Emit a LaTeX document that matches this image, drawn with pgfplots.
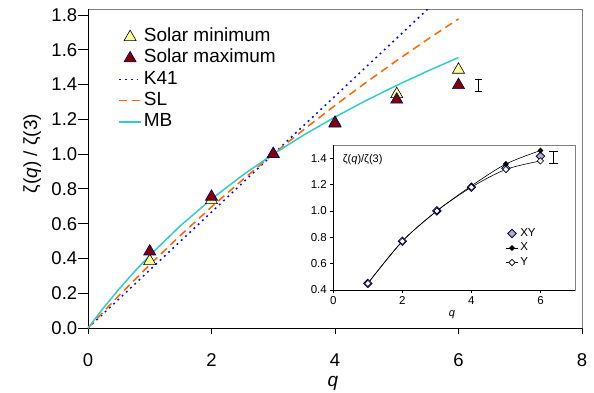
\documentclass[border=0pt]{standalone}
\usepackage{fontspec}
\setmainfont{Liberation Sans}
\usepackage{pgfplots}
\pgfplotsset{compat=1.18}
\definecolor{minfill}{RGB}{255,255,153}
\definecolor{maxfill}{RGB}{128,0,0}
\definecolor{maxedge}{RGB}{0,0,128}
\definecolor{slorange}{RGB}{255,102,0}
\definecolor{mbturq}{RGB}{51,204,204}
\definecolor{k41blue}{RGB}{0,0,255}
\definecolor{framegray}{RGB}{128,128,128}
\begin{document}
\begin{tikzpicture}
\useasboundingbox (-88pt,-64pt) rectangle (506pt,328pt);
\begin{axis}[
  at={(0pt,0pt)}, anchor=south west,
  scale only axis, width=494pt, height=319pt,
  xmin=0, xmax=8, ymin=0, ymax=1.8345,
  axis x line*=bottom, axis y line*=left,
  axis background/.style={draw=framegray, line width=0.8pt},
  axis line style={black, line width=0.8pt},
  tick align=outside,
  xtick={0,2,4,6,8}, ytick={0,0.2,0.4,0.6,0.8,1.0,1.2,1.4,1.6,1.8},
  yticklabel style={xshift=-3pt, /pgf/number format/.cd, fixed, fixed zerofill, precision=1},
  /pgf/number format/assume math mode=true,
  tick label style={font=\fontsize{18.5}{20}\selectfont},
  xticklabel style={yshift=-18pt},
  xtick style={/pgfplots/major tick length=6pt, black, line width=0.8pt},
  ytick style={/pgfplots/major tick length=10pt, black, line width=0.8pt},
  xlabel={\itshape q},
  ylabel={ζ(\textit{q}) / ζ(3)},
  xlabel style={at={(axis description cs:0.496,-0.172)}, anchor=center, font=\fontsize{19}{21}\selectfont},
  ylabel style={at={(axis description cs:-0.113,0.547)}, anchor=center, font=\fontsize{19}{21}\selectfont},
  legend style={at={(axis description cs:0.055,0.952)}, anchor=north west, draw=none, fill=none,
    font=\fontsize{19}{21}\selectfont,
    nodes={text height=13.5pt, text depth=4.5pt, inner ysep=1.6pt}},
  legend cell align=left,
  legend image code/.code={\draw[mark repeat=2,mark phase=2,#1] plot coordinates {(0pt,0pt) (11pt,0pt) (22pt,0pt)};},
]
\addplot[only marks, mark=triangle*, mark size=7pt, mark options={fill=minfill, draw=black, line width=0.6pt}]
  coordinates {(1,0.385)(2,0.735)(3,1.0)(4,1.18)(5,1.345)(6,1.485)};
\addlegendentry{Solar minimum}
\addplot[only marks, mark=triangle*, mark size=7pt, mark options={fill=maxfill, draw=maxedge, line width=0.6pt}]
  coordinates {(1,0.44)(2,0.755)(3,1.0)(4,1.175)(5,1.313)(6,1.397)};
\addlegendentry{Solar maximum}
\addplot[k41blue, line width=1.5pt, dash pattern=on 1.8pt off 4pt]
  coordinates {(0,0)(6,2)};
\addlegendentry{K41}
\addplot[slorange, line width=1.5pt, dash pattern=on 8pt off 5pt]
  coordinates {(0,0)(0.5,0.1863)(1,0.3640)(1.5,0.5337)(2,0.6959)(2.5,0.8513)(3,1.0)(3.5,1.1427)(4,1.2797)(4.5,1.4113)(5,1.5381)(5.5,1.6601)(6,1.7778)};
\addlegendentry{SL}
\addplot[mbturq, line width=1.5pt]
  coordinates {(0,0)(0.25,0.1153)(0.5,0.2229)(0.75,0.3235)(1,0.4178)(1.5,0.5893)(2,0.7415)(2.5,0.8775)(3,1.0)(3.5,1.1113)(4,1.2133)(4.5,1.3076)(5,1.3953)(5.5,1.4777)(6,1.5556)};
\addlegendentry{MB}
\addplot[forget plot, black, only marks, mark=*, mark size=0pt, error bars/.cd, y dir=both, y explicit,
  error mark=-,
  error bar style={black, line width=0.9pt},
  error mark options={black, rotate=90, mark size=3.5pt, line width=0.9pt}]
  coordinates {(6.32,1.395) +- (0,0.037)};
\end{axis}
\begin{axis}[
  at={(245.3pt,38pt)}, anchor=south west,
  scale only axis, width=241.7pt, height=145pt,
  xmin=0, xmax=7, ymin=0.4, ymax=1.5,
  axis x line*=bottom, axis y line*=left,
  axis background/.style={draw=framegray, fill=white, line width=0.8pt},
  axis line style={black, line width=0.7pt},
  tick align=outside, major tick length=3pt,
  tick style={black, line width=0.7pt},
  xtick={0,2,4,6}, ytick={0.4,0.6,0.8,1.0,1.2,1.4},
  yticklabel style={/pgf/number format/.cd, fixed, fixed zerofill, precision=1},
  /pgf/number format/assume math mode=true,
  tick label style={font=\fontsize{11.5}{13}\selectfont},
  xlabel={\itshape q},
  xlabel style={at={(axis description cs:0.491,-0.172)}, anchor=center, font=\fontsize{11}{12}\selectfont},
  ylabel={ζ(\textit{q})/ζ(3)},
  ylabel style={at={(axis description cs:0.025,0.897)}, anchor=west, rotate=-90, font=\fontsize{11}{12}\selectfont},
  legend style={at={(axis description cs:0.70,0.455)}, anchor=north west, draw=none, fill=none,
    font=\fontsize{11.5}{13}\selectfont,
    nodes={text height=9pt, text depth=3pt, inner ysep=1.25pt}},
  legend cell align=left,
  legend image code/.code={\draw[mark repeat=2,mark phase=2,#1] plot coordinates {(0pt,0pt) (6pt,0pt) (12pt,0pt)};},
]
\addplot[only marks, mark=square*, mark size=3pt, mark options={rotate=45, fill=gray!60, draw=maxedge, line width=0.8pt}]
  coordinates {(1,0.45)(2,0.77)(3,1.0)(4,1.18)(5,1.323)(6,1.415)};
\addlegendentry{XY}
\addplot[black, line width=0.6pt, smooth, mark=square*, mark size=1.8pt, mark options={rotate=45, fill=black, solid}]
  coordinates {(1,0.45)(2,0.77)(3,1.0)(4,1.19)(5,1.356)(6,1.458)};
\addlegendentry{X}
\addplot[black, line width=0.6pt, smooth, mark=square*, mark size=2.2pt, mark options={rotate=45, fill=white, solid}]
  coordinates {(1,0.45)(2,0.77)(3,1.0)(4,1.18)(5,1.315)(6,1.379)};
\addlegendentry{Y}
\addplot[forget plot, black, only marks, mark=*, mark size=0pt, error bars/.cd, y dir=both, y explicit,
  error mark=-,
  error bar style={black, line width=0.9pt},
  error mark options={black, rotate=90, mark size=4.5pt, line width=0.9pt}]
  coordinates {(6.38,1.405) +- (0,0.044)};
\end{axis}
\end{tikzpicture}
\end{document}
